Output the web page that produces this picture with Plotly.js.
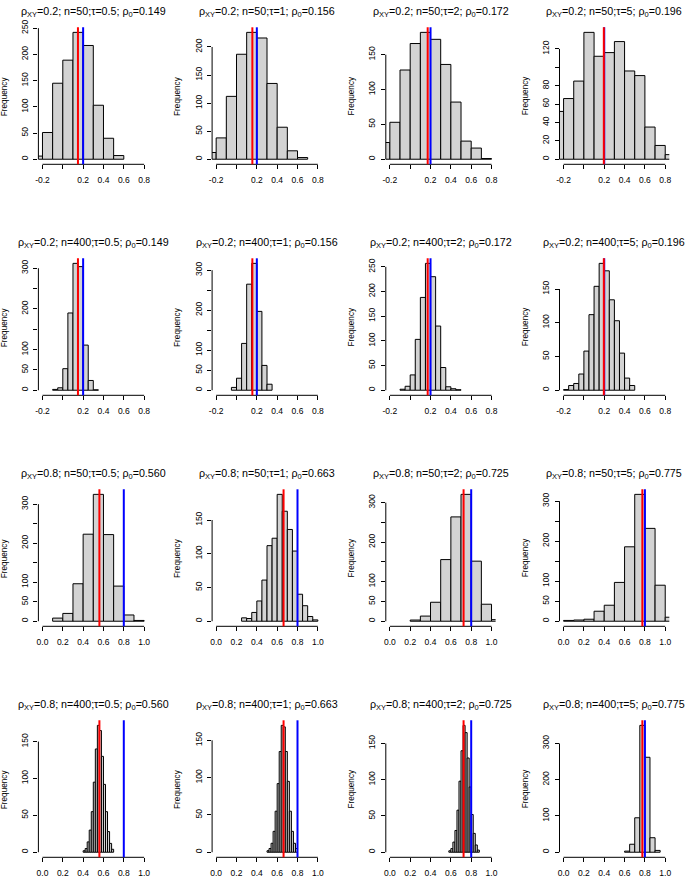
<!DOCTYPE html>
<html>
<head>
<meta charset="utf-8">
<script src="https://cdn.plot.ly/plotly-3.0.1.min.js"></script>
<style>html,body{margin:0;padding:0;background:#fff;}#chart{width:685px;height:877px;}</style>
</head>
<body>
<div id="chart"></div>
<script>
// ---- data ----
const rhoXY = [0.2,0.2,0.2,0.2, 0.2,0.2,0.2,0.2, 0.8,0.8,0.8,0.8, 0.8,0.8,0.8,0.8];
const nObs  = [50,50,50,50, 400,400,400,400, 50,50,50,50, 400,400,400,400];
const tau   = [0.5,1,2,5, 0.5,1,2,5, 0.5,1,2,5, 0.5,1,2,5];
const rho0  = [0.149,0.156,0.172,0.196, 0.149,0.156,0.172,0.196, 0.560,0.663,0.725,0.775, 0.560,0.663,0.725,0.775];

// histogram bins: first break and bin width for each panel
const binStart = [-0.3,-0.3,-0.3,-0.3, -0.1,-0.05,-0.1,-0.2, 0.1,0.25,0.2,0.0, 0.40,0.50,0.58,0.60];
const binWidth = [0.1,0.1,0.1,0.1, 0.05,0.05,0.05,0.05, 0.1,0.05,0.1,0.1, 0.02,0.02,0.02,0.05];

// frequencies per bin
const counts01 = [6,51,145,189,242,217,103,40,7];
const counts02 = [12,38,112,187,226,216,135,57,15,3];
const counts03 = [24,53,128,166,182,172,136,82,26,16,1];
const counts04 = [52,66,85,138,112,116,128,96,91,35,15,5];
const counts05 = [2,6,53,190,312,304,111,24,1];
const counts06 = [7,30,117,265,317,197,62,15];
const counts07 = [2,8,31,103,188,257,230,130,46,7,3,1];
const counts08 = [1,7,10,24,58,112,154,188,177,134,103,55,18,7];
const counts09 = [8,20,96,223,325,222,90,16,2];
const counts10 = [5,4,13,30,61,112,123,188,163,136,104,40,23,7,2];
const counts11 = [3,13,48,156,264,321,152,43,4];
const counts12 = [2,3,5,25,40,97,186,317,232,90,10];
const counts13 = [2,5,14,30,55,95,140,172,165,130,92,55,28,12,4];
const counts14 = [2,5,12,28,55,92,135,170,168,135,95,55,28,12,5];
const counts15 = [2,5,14,30,58,98,140,175,165,130,90,52,26,10,3];
const counts16 = [3,22,95,350,262,40,5];
const countsAll = [counts01,counts02,counts03,counts04,counts05,counts06,counts07,counts08,
                   counts09,counts10,counts11,counts12,counts13,counts14,counts15,counts16];

// axis ticks (labelled ticks, and ticks whose labels R dropped for lack of room)
const xTicksLow  = [-0.2,0.2,0.4,0.6,0.8];
const xLabelsLow = ['-0.2','0.2','0.4','0.6','0.8'];
const xUnlabelledLow = [0];
const xTicksHigh  = [0,0.2,0.4,0.6,0.8,1.0];
const xLabelsHigh = ['0.0','0.2','0.4','0.6','0.8','1.0'];
const yTickStep = [50,50,50,20, 50,50,50,50, 50,50,50,50, 50,50,50,100];
const yTickMax  = [250,200,150,120, 300,300,250,150, 300,150,300,300, 150,150,150,300];
const yHidden   = [[],[],[],[100], [150,250],[150,250],[],[], [150,250],[],[150,250],[150,250], [],[],[],[]];

// ---- layout geometry (pixels) ----
const W = 685, H = 877;
const colLeft = [38.4, 212.1, 385.8, 559.5];
const plotW = 109.8;
const rowTop = [27.3, 258.3, 489.3, 720.3];
const plotH = 137;
const FONT = 'Liberation Sans, Arial, Helvetica, sans-serif';

const traces = [], shapes = [], annotations = [];
const layout = {
  width: W, height: H, margin: {l:0,r:0,t:0,b:0},
  paper_bgcolor: '#ffffff', plot_bgcolor: '#ffffff',
  showlegend: false, font: {family: FONT, color: '#000'}
};

for (let p = 0; p < 16; p++) {
  const r = Math.floor(p / 4), c = p % 4;
  const sfx = p === 0 ? '' : String(p + 1);
  const xa = 'x' + sfx, ya = 'y' + sfx;
  const cnt = countsAll[p];
  const M = Math.max(...cnt);
  const xs = cnt.map((v, k) => binStart[p] + (k + 0.5) * binWidth[p]);
  traces.push({
    type: 'bar', x: xs, y: cnt, width: binWidth[p],
    xaxis: xa, yaxis: ya,
    marker: {color: '#D3D3D3', line: {color: '#000', width: 1}},
    hoverinfo: 'skip'
  });
  const low = r < 2;
  const xmin = low ? -0.2 : 0.0, xmax = low ? 0.8 : 1.0;
  const pad = 0.04 * (xmax - xmin);
  const yt = [], ytxt = [], yMinor = [];
  for (let v = 0; v <= yTickMax[p] + 1e-9; v += yTickStep[p]) {
    if (yHidden[p].includes(v)) yMinor.push(v);
    else { yt.push(v); ytxt.push(String(v)); }
  }
  const tickStyle = {ticks: 'outside', ticklen: 4, tickwidth: 1, tickcolor: '#000'};
  const x0 = colLeft[c], top = rowTop[r];
  layout['xaxis' + sfx] = Object.assign({
    domain: [x0 / W, (x0 + plotW) / W], anchor: ya,
    range: [xmin - pad, xmax + pad], showgrid: false, zeroline: false, showline: false,
    tickmode: 'array', tickvals: low ? xTicksLow : xTicksHigh, ticktext: low ? xLabelsLow : xLabelsHigh,
    ticklabelstandoff: 3, tickfont: {family: FONT, size: 8.5, color: '#000'},
    minor: Object.assign({tickmode: 'array', tickvals: low ? xUnlabelledLow : [], showgrid: false}, tickStyle)
  }, tickStyle);
  layout['yaxis' + sfx] = Object.assign({
    domain: [1 - (top + plotH) / H, 1 - top / H], anchor: xa,
    range: [-0.04 * M, 1.04 * M], showgrid: false, zeroline: false, showline: false,
    tickmode: 'array', tickvals: yt, ticktext: ytxt, tickangle: -90,
    ticklabelstandoff: 2, tickfont: {family: FONT, size: 8.5, color: '#000'},
    minor: Object.assign({tickmode: 'array', tickvals: yMinor, showgrid: false}, tickStyle)
  }, tickStyle);
  const yTop = yTickMax[p];
  // R-style axis lines spanning the tick range only
  shapes.push({type: 'line', xref: xa, yref: ya + ' domain', x0: xmin, x1: xmax, y0: 0, y1: 0,
               line: {color: '#000', width: 1}});
  shapes.push({type: 'line', xref: xa + ' domain', yref: ya, x0: 0, x1: 0, y0: 0, y1: yTop,
               line: {color: '#000', width: 1}});
  // reference lines: blue = true correlation, red = rho0
  shapes.push({type: 'line', xref: xa, yref: ya + ' domain', x0: rhoXY[p], x1: rhoXY[p], y0: 0, y1: 1,
               line: {color: '#0000FF', width: 2}});
  shapes.push({type: 'line', xref: xa, yref: ya + ' domain', x0: rho0[p], x1: rho0[p], y0: 0, y1: 1,
               line: {color: '#FF0000', width: 2}});
  // panel title
  annotations.push({
    xref: 'paper', yref: 'paper', x: (x0 + plotW / 2) / W, y: 1 - (top - 15.5) / H,
    xanchor: 'center', yanchor: 'middle', showarrow: false,
    text: 'ρ<sub>XY</sub>=' + rhoXY[p] + '; n=' + nObs[p] + ';τ=' + tau[p] + '; ρ<sub>0</sub>=' + rho0[p].toFixed(3),
    font: {family: FONT, size: 10.7, color: '#000'}
  });
  // y axis title
  annotations.push({
    xref: 'paper', yref: 'paper', x: (x0 - 34) / W, y: 1 - (top + plotH / 2) / H,
    xanchor: 'center', yanchor: 'middle', showarrow: false, textangle: -90,
    text: 'Frequency', font: {family: FONT, size: 8.2, color: '#000'}
  });
}
layout.shapes = shapes;
layout.annotations = annotations;
Plotly.newPlot('chart', traces, layout, {staticPlot: true});
</script>
</body>
</html>
